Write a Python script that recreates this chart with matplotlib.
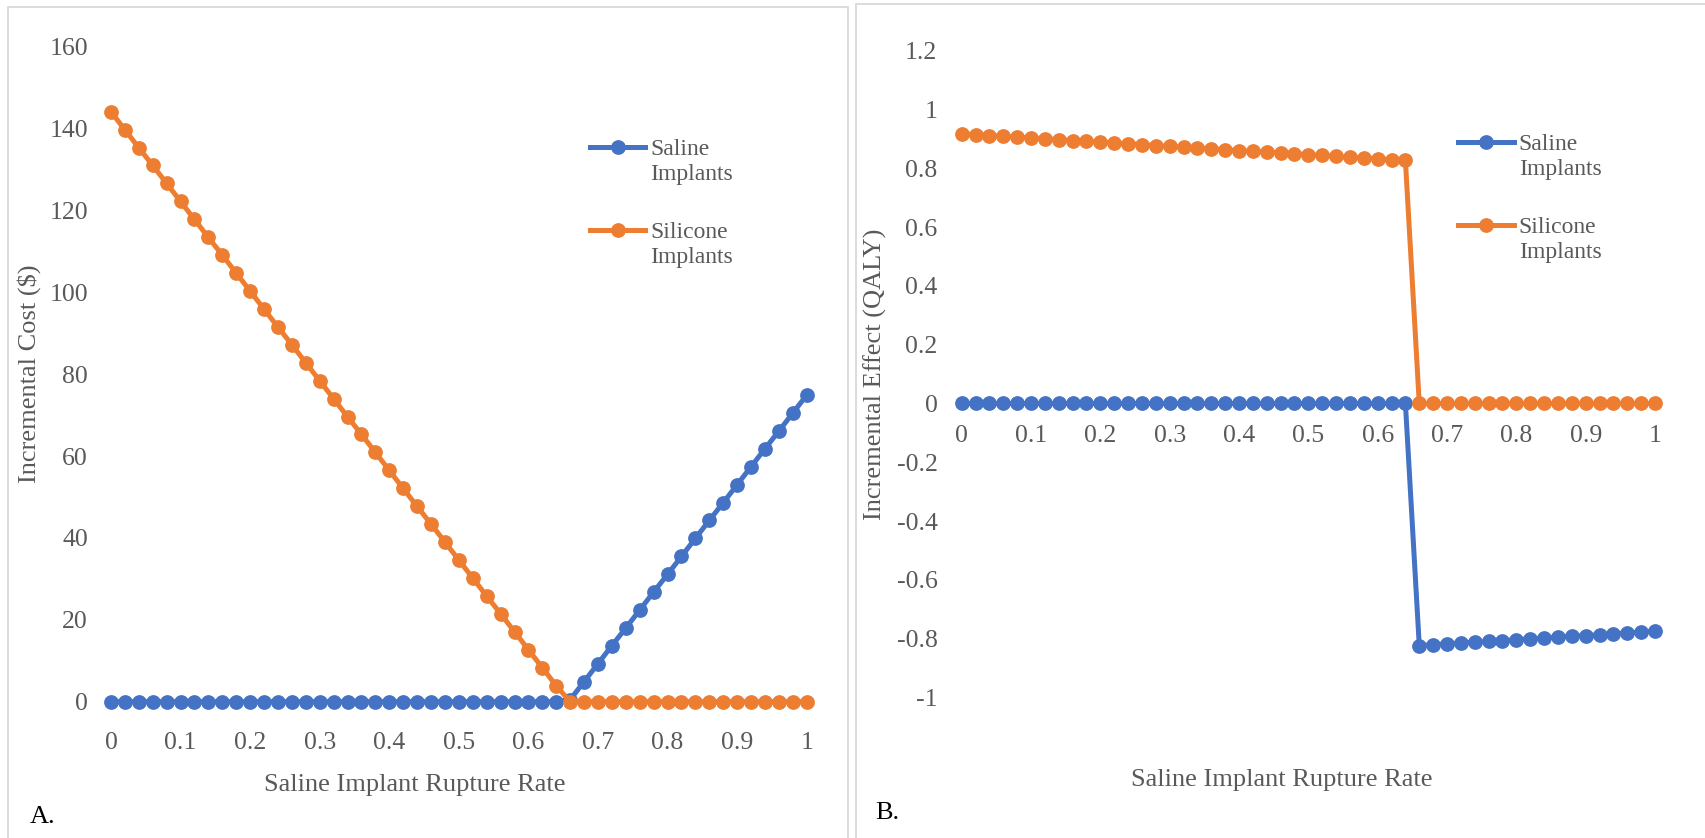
import matplotlib
matplotlib.use("Agg")
import matplotlib.pyplot as plt
from matplotlib.patches import Rectangle
from matplotlib.ticker import FixedLocator, FuncFormatter

plt.rcParams['font.family'] = ['Liberation Serif', 'DejaVu Serif']

# ---------------- data ----------------
rupture_rate = [round(i * 0.02, 2) for i in range(51)]

cost_saline = [0.0] * 33 + [0.5, 4.9, 9.3, 13.7, 18.0, 22.4, 26.8, 31.1, 35.5, 39.9,
                            44.3, 48.6, 53.0, 57.4, 61.8, 66.1, 70.5, 74.9]
cost_silicone = [144.1, 139.7, 135.3, 131.0, 126.6, 122.2, 117.8, 113.4, 109.1, 104.7,
                 100.3, 95.9, 91.5, 87.2, 82.8, 78.4, 74.0, 69.6, 65.3, 60.9,
                 56.5, 52.1, 47.7, 43.4, 39.0, 34.6, 30.2, 25.8, 21.5, 17.1,
                 12.7, 8.3, 3.9] + [0.0] * 18

effect_saline = [0.0] * 33 + [-0.824, -0.821, -0.818, -0.815, -0.812, -0.810, -0.807,
                              -0.804, -0.801, -0.798, -0.795, -0.792, -0.790, -0.787,
                              -0.784, -0.781, -0.778, -0.775]
effect_silicone = [0.918, 0.915, 0.912, 0.909, 0.907, 0.904, 0.901, 0.898, 0.895, 0.892,
                   0.890, 0.887, 0.884, 0.881, 0.878, 0.875, 0.873, 0.870, 0.867, 0.864,
                   0.861, 0.858, 0.856, 0.853, 0.850, 0.847, 0.844, 0.841, 0.838, 0.836,
                   0.833, 0.830, 0.827] + [0.0] * 18

series_names = ["Saline\nImplants", "Silicone\nImplants"]
x_ticks = [0, 0.1, 0.2, 0.3, 0.4, 0.5, 0.6, 0.7, 0.8, 0.9, 1]
cost_ticks = [0, 20, 40, 60, 80, 100, 120, 140, 160]
effect_ticks = [-1, -0.8, -0.6, -0.4, -0.2, 0, 0.2, 0.4, 0.6, 0.8, 1, 1.2]
x_title = "Saline Implant Rupture Rate"
y_titles = ["Incremental Cost ($)", "Incremental Effect (QALY)"]
panel_tags = ["A.", "B."]

# ---------------- style ----------------
W, H = 1706, 838
BLUE = "#4472C4"
ORANGE = "#ED7D31"
GRAY = "#595959"
BORDER = "#D9D9D9"

fig = plt.figure(figsize=(W / 100, H / 100), dpi=100)

# panel borders
fig.patches.append(Rectangle((8 / W, -0.02), (848.3 - 8) / W, 1.02 - 6.7 / H,
                             transform=fig.transFigure, fill=False,
                             edgecolor=BORDER, linewidth=1.3))
fig.patches.append(Rectangle((855.7 / W, -0.02), 1.0, 1.02 - 4.3 / H,
                             transform=fig.transFigure, fill=False,
                             edgecolor=BORDER, linewidth=1.3))

ax1 = fig.add_axes([111 / W, 1 - 701.7 / H, 695.7 / W, 655 / H])
ax2 = fig.add_axes([961.7 / W, 1 - 697.3 / H, 693.3 / W, 646.4 / H])


def fmt(v, pos):
    s = ("%.1f" % v).rstrip("0").rstrip(".")
    if s in ("-0", ""):
        s = "0"
    return s


def style(ax, ylo, yhi, yticks, xpad, ypad):
    ax.set_xlim(0, 1)
    ax.set_ylim(ylo, yhi)
    ax.xaxis.set_major_locator(FixedLocator(x_ticks))
    ax.yaxis.set_major_locator(FixedLocator(yticks))
    ax.xaxis.set_major_formatter(FuncFormatter(fmt))
    ax.yaxis.set_major_formatter(FuncFormatter(fmt))
    for s in ("top", "right", "left"):
        ax.spines[s].set_visible(False)
    ax.spines["bottom"].set_position(("data", 0))
    ax.spines["bottom"].set_color(BORDER)
    ax.tick_params(axis="x", length=0, pad=xpad, labelsize=18.5, labelcolor=GRAY)
    ax.tick_params(axis="y", length=0, pad=ypad, labelsize=18.5, labelcolor=GRAY)
    ax.set_facecolor("none")


def draw(ax, ys):
    lines = []
    for y, c, name in zip(ys, (BLUE, ORANGE), series_names):
        ln, = ax.plot(rupture_rate, y, color=c, linewidth=3.6, marker="o",
                      markersize=9.6, markerfacecolor=c, markeredgecolor=c,
                      clip_on=False, label=name, zorder=3)
        lines.append(ln)
    return lines


def legend(ax, lines, x_px, y_px):
    leg = ax.legend(handles=lines, loc="upper left",
                    bbox_to_anchor=(x_px / W, 1 - y_px / H),
                    bbox_transform=fig.transFigure, frameon=False,
                    fontsize=17, handlelength=2.36, handletextpad=0.2,
                    borderpad=0, borderaxespad=0, labelspacing=1.55,
                    labelcolor=GRAY)
    for col in leg._legend_handle_box.get_children():
        for item in col.get_children():
            item.align = "top"
    for t in leg.get_texts():
        t.set_linespacing(1.27)
    return leg


style(ax1, 0, 160, cost_ticks, 22, 16.6)
l1 = draw(ax1, [cost_saline, cost_silicone])
ax1.set_xlabel(x_title, fontsize=19, color=GRAY)
ax1.xaxis.set_label_coords(0.437, -0.127)
ax1.xaxis.label.set_va("center")
ax1.set_ylabel(y_titles[0], fontsize=19, color=GRAY)
ax1.yaxis.set_label_coords(-0.118, 0.5)
ax1.yaxis.label.set_va("center")
legend(ax1, l1, 589.7, 139)

style(ax2, -1, 1.2, effect_ticks, 15.5, 17.5)
l2 = draw(ax2, [effect_saline, effect_silicone])
ax2.set_xlabel(x_title, fontsize=19, color=GRAY)
ax2.xaxis.set_label_coords(0.462, -0.128)
ax2.xaxis.label.set_va("center")
ax2.set_ylabel(y_titles[1], fontsize=19, color=GRAY)
ax2.yaxis.set_label_coords(-0.125, 0.5)
ax2.yaxis.label.set_va("center")
legend(ax2, l2, 1458.3, 134)

fig.text(30 / W, 1 - 816.7 / H, panel_tags[0], fontsize=19, color="black",
         ha="left", va="center")
fig.text(875.7 / W, 1 - 813 / H, panel_tags[1], fontsize=19, color="black",
         ha="left", va="center")

fig.savefig("out.png", dpi=100, facecolor="white")
